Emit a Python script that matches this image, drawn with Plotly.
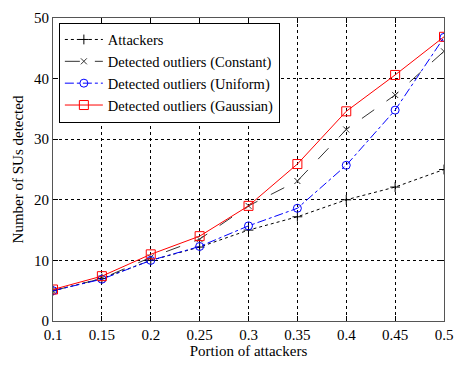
import plotly.graph_objects as go

x = [0.1, 0.15, 0.2, 0.25, 0.3, 0.35, 0.4, 0.45, 0.5]
attackers = [5, 7, 10, 12.2, 15, 17.2, 20, 22.1, 25]
constant = [5, 7, 10.5, 13.5, 19, 23.1, 31.6, 37.3, 44.5]
uniform = [5, 6.9, 10, 12.3, 15.7, 18.6, 25.7, 34.8, 46.8]
gaussian = [5.2, 7.4, 11, 14, 19, 25.9, 34.6, 40.6, 46.9]
xticks = [0.1, 0.15, 0.2, 0.25, 0.3, 0.35, 0.4, 0.45, 0.5]
xticklabels = ["0.1", "0.15", "0.2", "0.25", "0.3", "0.35", "0.4", "0.45", "0.5"]
yticks = [0, 10, 20, 30, 40, 50]

fig = go.Figure()
fig.add_trace(go.Scatter(x=x, y=attackers, name="Attackers", mode="lines+markers",
                         line=dict(color="black", width=1, dash="dot"),
                         marker=dict(symbol="cross-thin", size=7, line=dict(color="black", width=1))))
fig.add_trace(go.Scatter(x=x, y=constant, name="Detected outliers (Constant)", mode="lines+markers",
                         line=dict(color="#333333", width=1, dash="longdash"),
                         marker=dict(symbol="x-thin", size=6, line=dict(color="#333333", width=1))))
fig.add_trace(go.Scatter(x=x, y=uniform, name="Detected outliers (Uniform)", mode="lines+markers",
                         line=dict(color="blue", width=1, dash="dashdot"),
                         marker=dict(symbol="circle-open", size=8, color="blue", line=dict(width=1))))
fig.add_trace(go.Scatter(x=x, y=gaussian, name="Detected outliers (Gaussian)", mode="lines+markers",
                         line=dict(color="red", width=1),
                         marker=dict(symbol="square-open", size=9, color="red", line=dict(width=1))))

font = dict(family="Liberation Serif, Times New Roman, serif", size=15, color="black")
legfont = dict(family="Liberation Serif, Times New Roman, serif", size=14.5, color="black")
fig.update_layout(
    width=463, height=366,
    margin=dict(l=53, r=10, t=14, b=38),
    paper_bgcolor="white", plot_bgcolor="white",
    font=font,
    showlegend=True,
    legend=dict(x=0.015, y=0.985, xanchor="left", yanchor="top",
                bgcolor="white", bordercolor="black", borderwidth=1,
                font=legfont, tracegroupgap=0, itemwidth=38),
)
fig.update_xaxes(range=[0.1, 0.5], tickvals=xticks, ticktext=xticklabels,
                 showline=True, linecolor="#555555", linewidth=1, mirror="ticks",
                 ticks="inside", ticklen=5, tickcolor="black",
                 showgrid=True, gridcolor="black", griddash="dot", gridwidth=1,
                 zeroline=False, tickfont=font,
                 title=dict(text="Portion of attackers", standoff=2, font=font))
fig.update_yaxes(range=[0, 50], tickvals=yticks,
                 showline=True, linecolor="#555555", linewidth=1, mirror="ticks",
                 ticks="inside", ticklen=5, tickcolor="black",
                 showgrid=True, gridcolor="black", griddash="dot", gridwidth=1,
                 zeroline=False, tickfont=font,
                 title=dict(text="Number of SUs detected", standoff=6, font=font))

fig.write_html("out.html")
